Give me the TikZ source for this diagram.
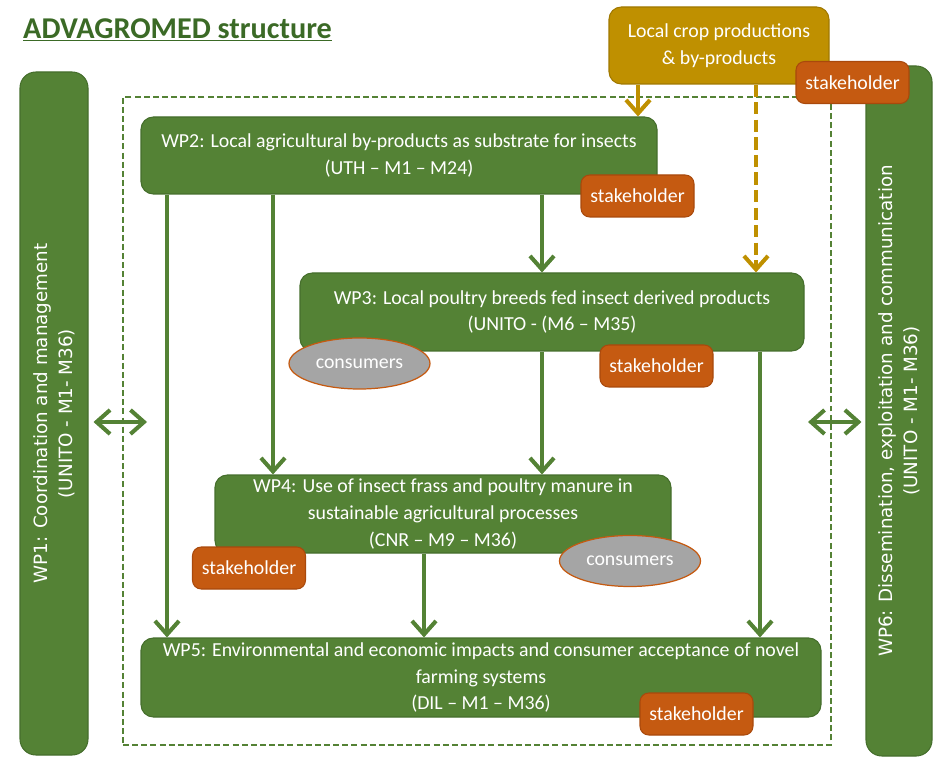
\documentclass[tikz,border=0pt]{standalone}
\usepackage{fontspec}
\setmainfont{Carlito}
\newfontfamily\barfont{DejaVu Sans}
\usetikzlibrary{arrows.meta,shapes.geometric,positioning}

\definecolor{wpgreen}{HTML}{548235}
\definecolor{wpedge}{HTML}{456E2C}
\definecolor{titlegreen}{HTML}{3B6A26}
\definecolor{cropgold}{HTML}{BF9000}
\definecolor{cropedge}{HTML}{A07800}
\definecolor{stakeorange}{HTML}{C55A11}
\definecolor{stakeedge}{HTML}{A9490C}
\definecolor{consgray}{HTML}{A5A5A5}

\begin{document}
\begin{tikzpicture}[
    x=0.02cm, y=-0.02cm,
    font=\fontsize{11.3}{15.3}\selectfont,
    box size/.style 2 args={minimum width=#1*0.02cm, minimum height=#2*0.02cm},
    wp/.style={rectangle, rounded corners=7pt, draw=wpedge, line width=0.6pt, fill=wpgreen, text=white, align=center, inner sep=0pt},
    bar/.style={wp, rotate=90, rounded corners=9pt, font=\barfont\fontsize{10.4}{14.2}\selectfont},
    crop/.style={wp, draw=cropedge, fill=cropgold},
    stake/.style={rectangle, rounded corners=5pt, draw=stakeedge, line width=0.6pt, fill=stakeorange, text=white, inner sep=0pt, box size={113}{42}, font=\fontsize{11.3}{12}\selectfont},
    cons/.style={ellipse, draw=stakeorange, line width=0.7pt, fill=consgray, text=white, inner sep=0pt, box size={141}{51}},
    frame/.style={rectangle, draw=wpgreen, line width=0.9pt, dash pattern=on 3.4pt off 1.8pt, inner sep=0pt},
    link/.style={draw=wpgreen, line width=2.3pt, -{Straight Barb[length=0.27cm,width=0.48cm]}},
    twoway/.style={link, {Straight Barb[length=0.27cm,width=0.48cm]}-{Straight Barb[length=0.27cm,width=0.48cm]}},
    feed/.style={link, draw=cropgold},
    feeddash/.style={feed, dash pattern=on 7pt off 3pt}
]
\useasboundingbox (0,0) rectangle (948,757);

\node[anchor=west, text=titlegreen, font=\bfseries\fontsize{17.2}{20}\selectfont] (title) at (17,30) {\underline{ADVAGROMED structure}};

\node[frame, box size={708}{648}] (frame) at (477,421) {};

\node[bar, box size={683}{68}] (wp1) at (54,413.5) {WP1: Coordination and management\\(UNITO - M1- M36)};
\node[bar, box size={690}{66}] (wp6) at (899,411) {WP6: Dissemination, exploitation and communication\\(UNITO - M1- M36)};

\node[crop, box size={220}{77}] (crop) at (719,45.5) {Local crop productions\\\& by-products};

\node[wp, box size={516}{77}] (wp2) at (399,155.5) {WP2: Local agricultural by-products as substrate for insects\\(UTH -- M1 -- M24)};
\node[wp, box size={504}{78}] (wp3) at (552,312) {WP3: Local poultry breeds fed insect derived products\\(UNITO - (M6 -- M35)};
\node[wp, box size={456}{78}] (wp4) at (443,514) {WP4: Use of insect frass and poultry manure in\\sustainable agricultural processes\\(CNR -- M9 -- M36)};
\node[wp, box size={680}{79}] (wp5) at (481,677.5) {WP5: Environmental and economic impacts and consumer acceptance of novel\\farming systems\\(DIL -- M1 -- M36)};

\node[stake] (sh1) at (852.5,82.5) {stakeholder};
\node[stake] (sh2) at (637.5,196) {stakeholder};
\node[stake] (sh3) at (656.5,366) {stakeholder};
\node[stake] (sh4) at (249,568) {stakeholder};
\node[stake] (sh5) at (696.5,714) {stakeholder};

\node[cons] (con3) at (359.5,363.5) {consumers};
\node[cons] (con4) at (630,561) {consumers};

\coordinate (colA) at (167,0);
\coordinate (colB) at (273,0);
\coordinate (colC) at (542,0);
\coordinate (colD) at (760,0);
\coordinate (colE) at (424,0);
\coordinate (goldA) at (638,0);
\coordinate (goldB) at (756,0);
\coordinate (hub1) at (147,422);
\coordinate (hub6) at (808,422);

\draw[link] (wp2.south -| colA) -- (wp5.north -| colA);
\draw[link] (wp2.south -| colB) -- (wp4.north -| colB);
\draw[link] (wp2.south -| colC) -- (wp3.north -| colC);
\draw[link] (wp3.south -| colC) -- (wp4.north -| colC);
\draw[link] (wp3.south -| colD) -- (wp5.north -| colD);
\draw[link] (wp4.south -| colE) -- (wp5.north -| colE);

\draw[feed] (crop.south -| goldA) -- (wp2.north -| goldA);
\draw[feeddash] (crop.south -| goldB) -- (wp3.north -| goldB);

\draw[twoway, shorten <=0.1cm] (wp1.south |- hub1) -- (hub1);
\draw[twoway, shorten >=0.08cm] (hub6) -- (wp6.north |- hub6);
\end{tikzpicture}
\end{document}
